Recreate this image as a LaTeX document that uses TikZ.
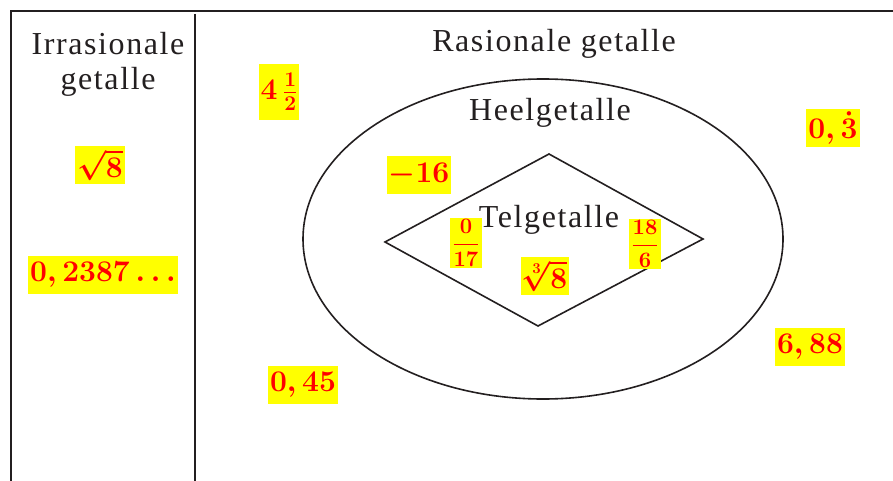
\RequirePackage{fix-cm}
\documentclass[tikz,border=0pt]{standalone}
\usepackage{amsmath}
\usepackage{fontspec}
\setmainfont{Liberation Serif}
\newfontfamily\lblfont[LetterSpace=5]{Liberation Serif}
\definecolor{hlyellow}{RGB}{255,255,0}
\definecolor{inkgrey}{RGB}{35,31,32}
\tikzset{
  lbl/.style={font=\lblfont\fontsize{32}{35}\selectfont, text=inkgrey, inner sep=0pt},
  num/.style={fill=hlyellow, text=red, inner xsep=2pt, inner ysep=1pt,
    minimum height=38pt, font=\fontsize{30}{34}\selectfont\boldmath},
  fracnum/.style={num, minimum height=0pt, font=\fontsize{22}{26}\selectfont\boldmath},
  rim/.style={line width=2pt, draw=inkgrey}
}
\begin{document}
\begin{tikzpicture}[x=1pt,y=-1pt]
\useasboundingbox (0,0) rectangle (893,481);
% frame
\draw[rim] (11,481) -- (11,11) -- (893,11);
\draw[rim] (195,14) -- (195,481);
% sets
\draw[rim, line width=1.6pt] (543,239) ellipse [x radius=240, y radius=160];
\draw[rim, line width=1.6pt] (549,154) -- (703,239) -- (538,326) -- (385,242) -- cycle;
% titles
\node[lbl, align=center] (irr) at (108,64) {Irrasionale\\getalle};
\node[lbl, anchor=base] (ras) at (554,52) {Rasionale getalle};
\node[lbl, anchor=base] (heel) at (550,121) {Heelgetalle};
\node[lbl, anchor=base] (tel) at (549,227) {Telgetalle};
% numbers
\node[num] (wortel) at (100,165) {$\sqrt{8}$};
\node[num] (desimaal) at (103,275) {$0,2387\,{\ldots}$};
\node[num, minimum height=56pt] (gemeng) at (279,92) {$4\,\frac{1}{2}$};
\node[num] (minsestien) at (419,175) {$-16$};
\node[fracnum] (nulbreuk) at (466,243) {$\dfrac{0}{17}$};
\node[num] (derdemag) at (545,276) {$\sqrt[3]{8}$};
\node[fracnum] (breuk) at (645,244) {$\dfrac{18}{6}$};
\node[num] (repeteer) at (833,128) {$0,\dot{3}$};
\node[num] (sesagt) at (810,347) {$6,88$};
\node[num] (nulvyf) at (303,385) {$0,45$};
\end{tikzpicture}
\end{document}
